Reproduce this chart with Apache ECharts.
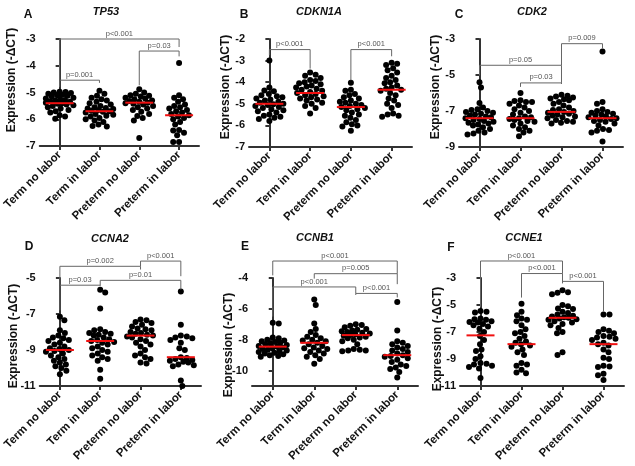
<!DOCTYPE html>
<html>
<head>
<meta charset="utf-8">
<script src="https://cdn.jsdelivr.net/npm/echarts@6/dist/echarts.min.js"></script>
<style>
html,body{margin:0;padding:0;background:#fff;}
#chart{width:635px;height:466px;}
</style>
</head>
<body>
<div id="chart"></div>
<script>
const categories = ['Term no labor', 'Term in labor', 'Preterm no labor', 'Preterm in labor'];
const yAxisName = 'Expression (-\u0394CT)';

// ---- TP53 ----
const tp53Values = [
  [-4.97,-4.98,-5.0,-5.02,-5.05,-5.08,-5.1,-5.12,-5.15,-5.2,-5.22,-5.25,-5.28,-5.3,-5.33,-5.35,-5.38,-5.4,-5.42,-5.45,-5.48,-5.5,-5.55,-5.6,-5.65,-5.7,-5.75,-5.85,-5.9,-5.98],
  [-4.93,-5.05,-5.12,-5.2,-5.25,-5.3,-5.35,-5.4,-5.45,-5.5,-5.55,-5.58,-5.6,-5.62,-5.65,-5.68,-5.7,-5.72,-5.75,-5.8,-5.83,-5.87,-5.9,-5.95,-6.0,-6.05,-6.1,-6.2,-6.25,-6.27],
  [-4.88,-5.0,-5.05,-5.1,-5.12,-5.15,-5.2,-5.22,-5.25,-5.3,-5.32,-5.35,-5.38,-5.4,-5.42,-5.45,-5.5,-5.55,-5.6,-5.65,-5.72,-5.8,-5.88,-5.95,-6.05,-6.7],
  [-3.9,-5.1,-5.2,-5.25,-5.35,-5.45,-5.5,-5.55,-5.6,-5.65,-5.7,-5.75,-5.8,-5.85,-5.9,-5.95,-6.0,-6.1,-6.2,-6.4,-6.42,-6.5,-6.6,-6.85,-6.85]
];
const tp53Medians = [-5.4, -5.7, -5.38, -5.85];
const tp53Ticks = [-7, -6, -5, -4, -3];
const tp53Brackets = [
  {from:0, to:3, y:-3.0, legFrom:-4.54, legTo:-3.3, label:'p<0.001'},
  {from:2, to:3, y:-3.45, legFrom:-4.73, legTo:-3.65, label:'p=0.03'},
  {from:0, to:1, y:-4.54, legFrom:-4.79, legTo:-4.64, label:'p=0.001'}
];

// ---- CDKN1A ----
const cdkn1aValues = [
  [-3.0,-4.25,-4.38,-4.42,-4.55,-4.6,-4.65,-4.7,-4.75,-4.8,-4.85,-4.9,-4.95,-5.0,-5.02,-5.05,-5.1,-5.15,-5.2,-5.25,-5.3,-5.35,-5.4,-5.5,-5.55,-5.6,-5.65,-5.7,-5.8],
  [-3.55,-3.65,-3.7,-3.8,-3.9,-3.95,-4.0,-4.05,-4.1,-4.15,-4.2,-4.25,-4.3,-4.35,-4.4,-4.45,-4.5,-4.55,-4.6,-4.65,-4.7,-4.75,-4.8,-4.85,-4.95,-5.0,-5.1,-5.2,-5.45],
  [-4.02,-4.35,-4.4,-4.55,-4.6,-4.7,-4.75,-4.85,-4.9,-4.95,-5.0,-5.05,-5.1,-5.15,-5.2,-5.25,-5.3,-5.4,-5.5,-5.55,-5.65,-5.75,-5.85,-5.95,-6.0,-6.05,-6.25],
  [-3.1,-3.15,-3.2,-3.35,-3.45,-3.55,-3.7,-3.8,-3.9,-4.0,-4.05,-4.15,-4.25,-4.3,-4.35,-4.4,-4.5,-4.6,-4.75,-4.85,-5.0,-5.05,-5.2,-5.45,-5.5,-5.55,-5.6]
];
const cdkn1aMedians = [-5.0, -4.5, -5.15, -4.35];
const cdkn1aTicks = [-7, -6, -5, -4, -3, -2];
const cdkn1aBrackets = [
  {from:0, to:1, y:-2.49, legFrom:-2.75, legTo:-3.37, label:'p<0.001'},
  {from:2, to:3, y:-2.49, legFrom:-3.91, legTo:-2.8, label:'p<0.001'}
];

// ---- CDK2 ----
const cdk2Values = [
  [-5.4,-5.7,-6.55,-6.8,-6.9,-6.95,-7.0,-7.05,-7.1,-7.15,-7.2,-7.25,-7.3,-7.35,-7.4,-7.45,-7.5,-7.55,-7.6,-7.65,-7.7,-7.75,-7.8,-7.9,-8.0,-8.1,-8.2,-8.25,-8.3],
  [-6.0,-6.4,-6.45,-6.5,-6.5,-6.6,-6.7,-6.8,-6.9,-7.0,-7.1,-7.2,-7.3,-7.35,-7.4,-7.45,-7.5,-7.55,-7.6,-7.7,-7.8,-7.9,-8.0,-8.1,-8.2,-8.4],
  [-6.1,-6.15,-6.2,-6.25,-6.3,-6.35,-6.4,-6.5,-6.6,-6.7,-6.8,-6.9,-6.95,-7.0,-7.05,-7.1,-7.15,-7.2,-7.25,-7.3,-7.35,-7.4,-7.5,-7.55,-7.6,-7.65,-7.7],
  [-3.7,-6.5,-6.6,-6.9,-7.0,-7.05,-7.1,-7.15,-7.2,-7.25,-7.3,-7.35,-7.4,-7.45,-7.5,-7.55,-7.6,-7.7,-7.8,-8.0,-8.05,-8.1,-8.2,-8.7]
];
const cdk2Medians = [-7.4, -7.4, -7.05, -7.4];
const cdk2Ticks = [-9, -7, -5, -3];
const cdk2Brackets = [
  {from:2, to:3, y:-3.26, legFrom:-4.46, legTo:-3.53, label:'p=0.009'},
  {from:0, to:2, y:-4.46, legFrom:-5.02, legTo:-5.44, label:'p=0.05'},
  {from:1, to:2, y:-5.44, legFrom:-5.66, legTo:-5.5, label:'p=0.03'}
];

// ---- CCNA2 ----
const ccna2Values = [
  [-7.15,-7.35,-7.9,-8.05,-8.2,-8.3,-8.35,-8.45,-8.5,-8.6,-8.7,-8.8,-8.9,-8.95,-9.0,-9.05,-9.1,-9.2,-9.3,-9.4,-9.5,-9.6,-9.7,-9.8,-9.9,-10.0,-10.15,-10.35],
  [-5.65,-5.8,-6.7,-7.85,-7.9,-8.0,-8.05,-8.1,-8.15,-8.2,-8.3,-8.4,-8.45,-8.5,-8.55,-8.6,-8.7,-8.8,-8.9,-9.0,-9.1,-9.2,-9.3,-9.4,-9.5,-9.6,-10.1,-10.6],
  [-7.3,-7.35,-7.45,-7.5,-7.6,-7.7,-7.8,-7.85,-7.9,-8.0,-8.05,-8.1,-8.15,-8.2,-8.25,-8.3,-8.4,-8.5,-8.6,-8.7,-8.8,-9.0,-9.2,-9.3,-9.4,-9.5,-9.7,-9.75],
  [-5.75,-7.6,-8.2,-8.25,-8.3,-8.35,-8.45,-8.6,-8.9,-9.0,-9.4,-9.45,-9.5,-9.55,-9.6,-9.65,-9.7,-9.8,-9.85,-9.9,-10.7,-11.0]
];
const ccna2Medians = [-9.0, -8.5, -8.2, -9.4];
const ccna2Ticks = [-11, -9, -7, -5];
const ccna2Brackets = [
  {from:0, to:2, y:-4.35, legFrom:-5.4, legTo:-4.53, label:'p=0.002'},
  {from:2, to:3, y:-4.06, legFrom:-4.35, legTo:-4.9, label:'p<0.001'},
  {from:1, to:3, y:-5.13, legFrom:-5.4, legTo:-5.64, label:'p=0.01'},
  {from:0, to:1, y:-5.4, legFrom:-6.8, legTo:-5.45, label:'p=0.03'}
];

// ---- CCNB1 ----
const ccnb1Values = [
  [-6.9,-6.95,-7.85,-7.9,-8.0,-8.05,-8.1,-8.15,-8.2,-8.25,-8.3,-8.35,-8.4,-8.45,-8.5,-8.55,-8.6,-8.65,-8.7,-8.75,-8.8,-8.85,-8.9,-8.95,-9.0,-9.05,-9.1],
  [-5.4,-5.75,-6.95,-7.3,-7.5,-7.7,-7.8,-7.9,-8.0,-8.05,-8.1,-8.2,-8.3,-8.4,-8.5,-8.55,-8.6,-8.7,-8.8,-8.9,-9.0,-9.1,-9.25,-9.55],
  [-7.0,-7.05,-7.1,-7.2,-7.3,-7.35,-7.4,-7.45,-7.5,-7.55,-7.6,-7.65,-7.7,-7.75,-7.8,-7.85,-7.9,-8.0,-8.1,-8.3,-8.6,-8.65,-8.7,-8.7,-8.75],
  [-5.55,-7.4,-8.1,-8.2,-8.3,-8.4,-8.5,-8.6,-8.7,-8.8,-8.9,-9.0,-9.05,-9.1,-9.2,-9.3,-9.45,-9.6,-9.7,-9.8,-9.9,-10.1,-10.45]
];
const ccnb1Medians = [-8.45, -8.2, -7.7, -9.0];
const ccnb1Ticks = [-10, -8, -6, -4];
const ccnb1Brackets = [
  {from:0, to:3, y:-2.9, legFrom:-3.83, legTo:-3.72, label:'p<0.001'},
  {from:1, to:3, y:-3.72, legFrom:-4.04, legTo:-4.4, label:'p=0.005'},
  {from:0, to:2, y:-4.58, legFrom:-6.5, legTo:-5.0, label:'p<0.001'},
  {from:2, to:3, y:-5.0, legFrom:-5.1, legTo:-5.26, label:'p<0.001'}
];

// ---- CCNE1 ----
const ccne1Values = [
  [-5.45,-5.5,-5.55,-6.0,-6.05,-6.1,-6.2,-6.25,-6.3,-6.4,-6.5,-6.6,-6.75,-7.0,-7.3,-7.6,-7.9,-8.3,-8.4,-8.8,-9.0,-9.3,-9.35,-9.4,-9.5,-9.6,-9.7,-10.4],
  [-4.9,-5.5,-5.75,-6.0,-6.1,-6.2,-6.5,-6.8,-7.0,-7.1,-7.3,-7.5,-7.7,-7.8,-7.9,-8.0,-8.1,-8.3,-8.5,-8.7,-9.3,-9.4,-9.5,-9.8,-10.0,-10.05],
  [-3.9,-4.05,-4.1,-4.2,-5.0,-5.1,-5.25,-5.3,-5.5,-5.6,-5.7,-5.8,-5.85,-5.9,-5.95,-6.0,-6.05,-6.1,-6.2,-6.3,-6.4,-6.5,-6.7,-7.0,-7.1,-8.5,-8.7],
  [-5.7,-5.7,-6.8,-6.9,-7.0,-7.1,-7.3,-7.35,-7.4,-7.5,-7.6,-7.8,-7.9,-8.0,-8.3,-8.5,-8.9,-9.0,-9.5,-9.55,-9.6,-10.1,-10.2,-10.55]
];
const ccne1Medians = [-7.25, -7.9, -5.95, -7.9];
const ccne1Ticks = [-11, -9, -7, -5, -3];
const ccne1Brackets = [
  {from:0, to:2, y:-1.74, legFrom:-5.14, legTo:-2.67, label:'p<0.001'},
  {from:1, to:2, y:-2.67, legFrom:-4.45, legTo:-3.4, label:'p<0.001'},
  {from:2, to:3, y:-3.25, legFrom:-3.25, legTo:-5.5, label:'p<0.001'}
];

// ---- panel layout ----
const panels = [
  {letter:'A', gene:'TP53',   values:tp53Values,   medians:tp53Medians,   ticks:tp53Ticks,   brackets:tp53Brackets,   min:-7,  max:-3, left:37,  top:39,  width:162, height:107, letterX:28,  letterY:15,  titleX:106, titleY:12,  nameX:12,  nameY:80},
  {letter:'B', gene:'CDKN1A', values:cdkn1aValues, medians:cdkn1aMedians, ticks:cdkn1aTicks, brackets:cdkn1aBrackets, min:-7,  max:-2, left:249, top:39,  width:163, height:108, letterX:244, letterY:15,  titleX:319, titleY:12,  nameX:226, nameY:87},
  {letter:'C', gene:'CDK2',   values:cdk2Values,   medians:cdk2Medians,   ticks:cdk2Ticks,   brackets:cdk2Brackets,   min:-9,  max:-3, left:459, top:39,  width:164, height:108, letterX:459, letterY:15,  titleX:532, titleY:12,  nameX:436, nameY:87},
  {letter:'D', gene:'CCNA2',  values:ccna2Values,  medians:ccna2Medians,  ticks:ccna2Ticks,  brackets:ccna2Brackets,  min:-11, max:-5, left:39,  top:278, width:162, height:108, letterX:29,  letterY:247, titleX:110, titleY:239, nameX:14,  nameY:336},
  {letter:'E', gene:'CCNB1',  values:ccnb1Values,  medians:ccnb1Medians,  ticks:ccnb1Ticks,  brackets:ccnb1Brackets,  min:-11, max:-4, left:252, top:278, width:166, height:108, letterX:245, letterY:247, titleX:315, titleY:238, nameX:229, nameY:345},
  {letter:'F', gene:'CCNE1',  values:ccne1Values,  medians:ccne1Medians,  ticks:ccne1Ticks,  brackets:ccne1Brackets,  min:-11, max:-3, left:460, top:278, width:164, height:108, letterX:451, letterY:248, titleX:524, titleY:238, nameX:438, nameY:339}
];

// deterministic beeswarm: offsets (category units) so dots overlap little, width capped
function swarmOffsets(vals, pxPerUnit, bandPx, diam, cap) {
  const order = vals.map((v, i) => i).sort((a, b) => vals[b] - vals[a]);
  const placed = [];
  const out = new Array(vals.length);
  order.forEach((i, k) => {
    const y = vals[i] * pxPerUnit;
    let best = null;
    let bestScore = Infinity, bestX = 0;
    for (let s = 0; s <= cap * 2; s++) {
      const d = s * 0.5;
      const cands = s === 0 ? [0] : (k % 2 ? [d, -d] : [-d, d]);
      for (const x of cands) {
        let minD = Infinity;
        placed.forEach(p => { const dd = Math.hypot(p.x - x, p.y - y); if (dd < minD) minD = dd; });
        if (minD >= diam) { best = x; break; }
        if (-minD < bestScore) { bestScore = -minD; bestX = x; }
      }
      if (best !== null) break;
    }
    if (best === null) best = bestX;
    placed.push({x: best, y: y});
    out[i] = best / bandPx;
  });
  return out;
}

const AXIS_COLOR = '#333';
const FONT = '"Liberation Sans", Arial, sans-serif';

const grids = [], xAxes = [], yAxes = [], series = [], graphics = [];

panels.forEach((p, k) => {
  grids.push({left: p.left, top: p.top, width: p.width, height: p.height});
  xAxes.push({
    type: 'category', gridIndex: k, data: categories, boundaryGap: true,
    axisLine: {show: true, lineStyle: {color: AXIS_COLOR, width: 2}},
    axisTick: {show: true, alignWithLabel: true, length: 4, lineStyle: {color: AXIS_COLOR, width: 2}},
    axisLabel: {rotate: 45, interval: 0, margin: 7, fontWeight: 'bold', fontSize: 11.5, color: '#111', fontFamily: FONT},
    splitLine: {show: false}
  });
  xAxes.push({type: 'value', gridIndex: k, min: -0.5, max: 3.5, show: false});
  yAxes.push({
    type: 'value', gridIndex: k, min: p.min, max: p.max,
    axisLine: {show: true, lineStyle: {color: AXIS_COLOR, width: 2}},
    axisTick: {show: true, length: 4, lineStyle: {color: AXIS_COLOR, width: 2}, customValues: p.ticks},
    axisLabel: {fontWeight: 'bold', fontSize: 11, color: '#111', margin: 4, fontFamily: FONT, customValues: p.ticks},
    splitLine: {show: false}
  });

  const pxPerUnit = p.height / (p.max - p.min);
  const bandPx = p.width / categories.length;
  const pts = [];
  p.values.forEach((arr, g) => {
    const offs = swarmOffsets(arr, pxPerUnit, bandPx, 5.6, 14);
    arr.forEach((v, j) => pts.push([g + offs[j], v]));
  });
  series.push({
    type: 'scatter', xAxisIndex: 2 * k + 1, yAxisIndex: k, data: pts,
    symbol: 'circle', symbolSize: 6, itemStyle: {color: '#000', opacity: 1}, silent: true, z: 3
  });
  series.push({
    type: 'custom', xAxisIndex: 2 * k + 1, yAxisIndex: k, z: 5, silent: true, clip: false,
    data: p.medians.map((m, g) => [g, m]),
    renderItem: (params, api) => {
      const c = api.coord([api.value(0), api.value(1)]);
      return {type: 'line', shape: {x1: c[0] - 14, y1: c[1], x2: c[0] + 14, y2: c[1]},
              style: {stroke: '#f01010', lineWidth: 2}};
    }
  });
  series.push({
    type: 'custom', xAxisIndex: 2 * k + 1, yAxisIndex: k, z: 4, silent: true, clip: false,
    data: p.brackets.map(b => [b.from, b.to, b.y, b.legFrom, b.legTo]),
    renderItem: (params, api) => {
      const b = p.brackets[params.dataIndex];
      const a = api.coord([b.from, b.y]);
      const c = api.coord([b.to, b.y]);
      const la = api.coord([b.from, b.legFrom]);
      const lc = api.coord([b.to, b.legTo]);
      return {type: 'group', children: [
        {type: 'polyline', shape: {points: [[la[0], la[1]], [a[0], a[1]], [c[0], c[1]], [lc[0], lc[1]]]},
         style: {stroke: '#666', lineWidth: 1, fill: null}},
        {type: 'text', style: {text: b.label, x: (a[0] + c[0]) / 2, y: a[1] - 1.5,
         align: 'center', verticalAlign: 'bottom', fill: '#555', fontSize: 7.5, fontFamily: FONT}}
      ]};
    }
  });

  graphics.push({type: 'text', x: p.letterX, y: p.letterY,
    style: {text: p.letter, fontSize: 12, fontWeight: 'bold', fill: '#111', fontFamily: FONT, align: 'center', verticalAlign: 'middle'}});
  graphics.push({type: 'text', x: p.titleX, y: p.titleY,
    style: {text: p.gene, fontSize: 11, fontWeight: 'bold', fontStyle: 'italic', fill: '#111', fontFamily: FONT, align: 'center', verticalAlign: 'middle'}});
  graphics.push({type: 'text', x: p.nameX, y: p.nameY, rotation: Math.PI / 2,
    style: {text: yAxisName, fontSize: 12, fontWeight: 'bold', fill: '#111', fontFamily: FONT, align: 'center', verticalAlign: 'middle'}});
});

const chart = echarts.init(document.getElementById('chart'), null, {renderer: 'canvas'});
chart.setOption({
  animation: false,
  backgroundColor: '#fff',
  textStyle: {fontFamily: FONT},
  grid: grids, xAxis: xAxes, yAxis: yAxes, series: series, graphic: graphics
});
</script>
</body>
</html>
